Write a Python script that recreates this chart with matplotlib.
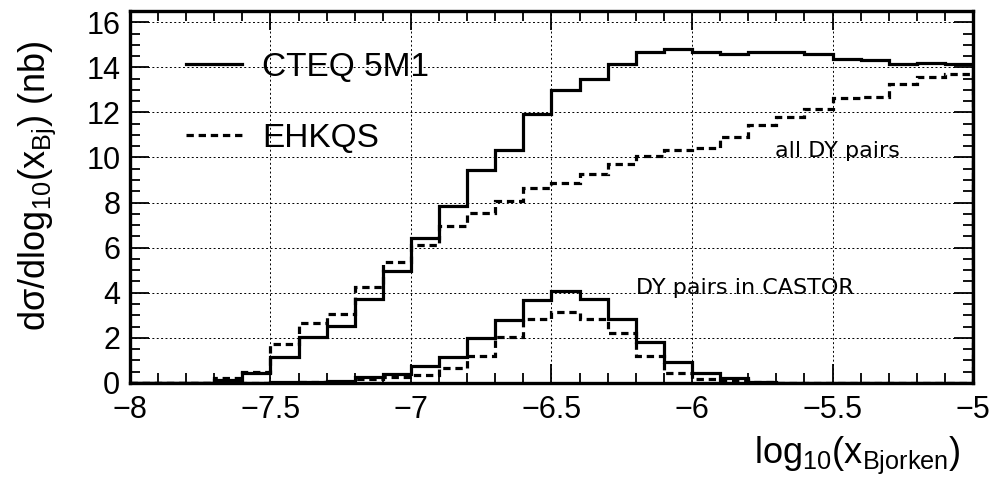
import numpy as np
import matplotlib.pyplot as plt
from matplotlib.ticker import MultipleLocator

plt.rcParams['font.family'] = 'Liberation Sans'
plt.rcParams['mathtext.fontset'] = 'custom'
plt.rcParams['mathtext.rm'] = 'Liberation Sans'
plt.rcParams['mathtext.it'] = 'Liberation Sans'
plt.rcParams['mathtext.default'] = 'regular'

# bin edges of log10(x_Bjorken), 0.1 wide from -8 to -5
bin_edges = np.round(np.arange(-8.0, -4.95, 0.1), 1)

# all DY pairs
cteq_all = [0, 0, 0, 0.13, 0.42, 1.14, 2.02, 2.54, 3.71, 4.98,
            6.44, 7.86, 9.44, 10.33, 11.92, 13.01, 13.50, 14.16, 14.68, 14.83,
            14.68, 14.58, 14.68, 14.68, 14.61, 14.39, 14.32, 14.14, 14.21, 14.14]
ehkqs_all = [0, 0, 0, 0.20, 0.50, 1.73, 2.67, 3.04, 4.24, 5.35,
             6.12, 6.96, 7.55, 8.07, 8.63, 8.88, 9.26, 9.71, 10.08, 10.35,
             10.40, 10.92, 11.44, 11.78, 12.17, 12.65, 12.70, 13.28, 13.58, 13.70]

# DY pairs in CASTOR
cteq_castor = [0, 0, 0, 0, 0, 0.02, 0.03, 0.10, 0.25, 0.40,
               0.75, 1.17, 1.98, 2.79, 3.68, 4.08, 3.74, 2.82, 1.83, 0.92,
               0.43, 0.20, 0.03, 0, 0, 0, 0, 0, 0, 0]
ehkqs_castor = [0, 0, 0, 0, 0, 0.01, 0.02, 0.05, 0.16, 0.24,
                0.35, 0.65, 1.20, 2.03, 2.82, 3.16, 2.84, 2.23, 1.20, 0.46,
                0.16, 0.12, 0.02, 0, 0, 0, 0, 0, 0, 0]

fig = plt.figure(figsize=(10.03, 4.78), dpi=100)
ax = fig.add_axes([0.1296, 0.199, 0.8405, 0.778])

lw = 2.3
dash = (0, (2.3, 1.5))
ax.stairs(cteq_all, bin_edges, color='black', lw=lw, label='CTEQ 5M1')
ax.stairs(ehkqs_all, bin_edges, color='black', lw=lw, linestyle=dash, label='EHKQS')
ax.stairs(cteq_castor, bin_edges, color='black', lw=lw)
ax.stairs(ehkqs_castor, bin_edges, color='black', lw=lw, linestyle=dash)

ax.set_xlim(-8, -5)
ax.set_ylim(0, 16.5)
ax.xaxis.set_major_locator(MultipleLocator(0.5))
ax.xaxis.set_minor_locator(MultipleLocator(0.1))
ax.yaxis.set_major_locator(MultipleLocator(2))
ax.yaxis.set_minor_locator(MultipleLocator(0.5))
ax.set_xticks([-8, -7.5, -7, -6.5, -6, -5.5, -5])
ax.set_xticklabels(['\u22128', '\u22127.5', '\u22127', '\u22126.5', '\u22126', '\u22125.5', '\u22125'])

ax.grid(True, which='major', color='black', lw=0.7, linestyle=(0, (2, 2.5)))
ax.tick_params(which='both', direction='in', top=True, right=True, labelsize=22, width=1.3)
ax.tick_params(which='major', length=14)
ax.tick_params(axis='x', which='major', pad=9)
ax.tick_params(axis='y', which='major', pad=7)
ax.tick_params(which='minor', length=7)
for s in ax.spines.values():
    s.set_linewidth(2.4)

ax.set_ylabel(r'd$\sigma$/dlog$_{10}$(x$_{Bj}$) (nb)', fontsize=26)
ax.yaxis.set_label_coords(-0.085, 0.53)
ax.set_xlabel(r'log$_{10}$(x$_{Bjorken}$)', fontsize=26, loc='right')
ax.xaxis.set_label_coords(0.985, -0.14)

ax.text(-5.705, 10.0, 'all DY pairs', fontsize=16, family='DejaVu Sans')
ax.text(-6.199, 3.95, 'DY pairs in CASTOR', fontsize=16, family='DejaVu Sans')

ax.legend(loc='upper left', bbox_to_anchor=(0.066, 0.891), frameon=False, fontsize=24,
          handlelength=1.7, handletextpad=0.6, labelspacing=1.2,
          borderpad=0, borderaxespad=0)

fig.savefig('out.png', dpi=100)
